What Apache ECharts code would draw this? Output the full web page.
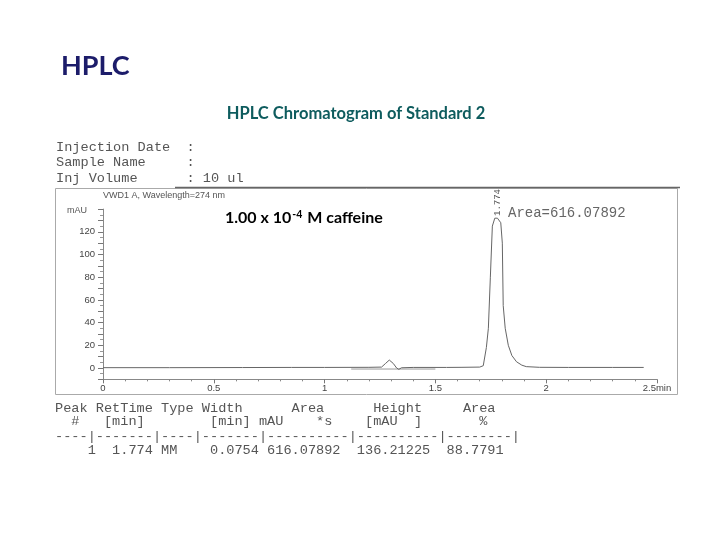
<!DOCTYPE html>
<html><head><meta charset="utf-8">
<script src="https://cdn.jsdelivr.net/npm/echarts@6/dist/echarts.min.js"></script>
<style>html,body{margin:0;padding:0;background:#fff}#c{width:720px;height:540px}</style>
</head><body><div id="c"></div>
<script>
// ---- data ----
const traceTime = [0, 0.30, 0.63, 0.85, 1.00, 1.20, 1.257, 1.275, 1.292, 1.31, 1.325, 1.335, 1.347, 1.40, 1.55, 1.62, 1.70, 1.716, 1.73, 1.739, 1.748, 1.757, 1.768, 1.78, 1.795, 1.802, 1.806, 1.815, 1.829, 1.845, 1.866, 1.89, 1.91, 1.97, 2.10, 2.30, 2.44];
const traceMAU  = [0.3, 0.3, 0.4, 0.5, 0.5, 0.6, 0.8, 4, 7, 4, 0, -1.2, 0.2, 0.5, 0.5, 0.6, 0.8, 2, 18, 35, 80, 125, 132, 132, 128, 110, 55, 35, 20, 11, 5.5, 2.5, 1.2, 0.6, 0.5, 0.5, 0.5];
const integTime = [1.12, 1.50];
const integMAU  = [-0.9, -0.9];
const xTickValues = [0, 0.5, 1, 1.5, 2, 2.5];
const xTickLabels = ["0", "0.5", "1", "1.5", "2", "2.5min"];
const yTickLabels = [0, 20, 40, 60, 80, 100, 120];
const headerLines = ["Injection Date  :", "Sample Name     :", "Inj Volume      : 10 ul"];
const tableLines = [
  "Peak RetTime Type Width      Area      Height     Area",
  "  #   [min]        [min] mAU    *s    [mAU  ]       %",
  "----|-------|----|-------|----------|----------|--------|",
  "    1  1.774 MM    0.0754 616.07892  136.21225  88.7791"
];
const peakRT = "1.774";
const peakArea = "Area=616.07892";

// ---- chart ----
const chart = echarts.init(document.getElementById('c'), null, {renderer: 'canvas'});
const mono = '"Liberation Mono", "DejaVu Sans Mono", monospace';
const gray = '#555';
const trace = traceTime.map((t, i) => [t, traceMAU[i]]);
const integ = integTime.map((t, i) => [t, integMAU[i]]);

const graphics = [
  {type: 'rect', shape: {x: 55.5, y: 188.5, width: 622, height: 206}, style: {fill: 'none', stroke: '#aaa', lineWidth: 1}, z: 0},
  {type: 'line', shape: {x1: 175, y1: 187.5, x2: 680, y2: 187.5}, style: {stroke: '#666', lineWidth: 1.5}},
  {type: 'text', left: 103, top: 191, style: {text: 'VWD1 A, Wavelength=274 nm', font: '9px "Liberation Sans", Arial', fill: '#555'}},
  {type: 'text', left: 67, top: 206, style: {text: 'mAU', font: '9px "Liberation Sans", Arial', fill: '#555'}},
  {type: 'text', left: 225, top: 209, style: {
    text: '{n|1.00 x 10}{s|-4}{n| M caffeine}',
    rich: {
      n: {font: 'bold 16px Lato, "Open Sans", sans-serif', fill: '#000', verticalAlign: 'bottom'},
      s: {font: 'bold 10.5px Lato, "Open Sans", sans-serif', fill: '#000', verticalAlign: 'top', padding: [0, 1, 6, 1]}
    }
  }},
  {type: 'text', x: 502, y: 216, rotation: Math.PI / 2, style: {text: peakRT, font: '9px ' + mono, fill: '#555', textVerticalAlign: 'bottom'}},
  {type: 'text', left: 508, top: 206, style: {text: peakArea, font: '14px ' + mono, fill: '#666'}}
];
headerLines.forEach((s, i) => {
  graphics.push({type: 'text', left: 56, top: 140 + i * 15.5, style: {text: s, font: '13.6px ' + mono, fill: gray}});
});
tableLines.forEach((s, i) => {
  const tops = [401, 414.5, 429, 443.5];
  graphics.push({type: 'text', left: 55, top: tops[i], style: {text: s, font: '13.6px ' + mono, fill: gray}});
});

chart.setOption({
  animation: false,
  backgroundColor: '#fff',
  title: [
    {text: 'HPLC', left: 56, top: 48, textStyle: {fontFamily: 'Lato, "Open Sans", sans-serif', fontWeight: 'bold', fontSize: 27, color: '#1c1c6a'}},
    {text: 'HPLC Chromatogram of Standard 2', left: 351, top: 100, textAlign: 'center', textStyle: {fontFamily: 'Lato, "Open Sans", sans-serif', fontWeight: 'bold', fontSize: 16.5, color: '#0e5c5e'}}
  ],
  grid: {left: 103, right: 63, top: 209.1, bottom: 160.65, containLabel: false},
  xAxis: {
    type: 'value', min: 0, max: 2.5, interval: 0.5,
    axisLine: {onZero: false, lineStyle: {color: '#888', width: 1}},
    axisTick: {length: 4, lineStyle: {color: '#777'}},
    minorTick: {show: true, splitNumber: 5, length: 2, lineStyle: {color: '#888'}},
    splitLine: {show: false},
    axisLabel: {margin: 4, fontSize: 9.5, fontFamily: '"Liberation Sans", Arial', color: '#444',
      formatter: v => { const k = xTickValues.findIndex(x => Math.abs(x - v) < 1e-6); return k >= 0 ? xTickLabels[k] : ''; }}
  },
  yAxis: {
    type: 'value', min: -10, max: 140, interval: 10,
    axisLine: {show: true, lineStyle: {color: '#888', width: 1}},
    axisTick: {length: 5, lineStyle: {color: '#777'}},
    minorTick: {show: true, splitNumber: 2, length: 3, lineStyle: {color: '#999'}},
    splitLine: {show: false},
    axisLabel: {margin: 8, fontSize: 9.5, fontFamily: '"Liberation Sans", Arial', color: '#444',
      formatter: v => yTickLabels.includes(Math.round(v)) ? String(Math.round(v)) : ''}
  },
  series: [
    {type: 'line', data: trace, showSymbol: false, smooth: false, lineStyle: {color: '#666', width: 1}, z: 3},
    {type: 'line', data: integ, showSymbol: false, lineStyle: {color: '#999', width: 1}, z: 2}
  ],
  graphic: graphics
});
</script></body></html>
